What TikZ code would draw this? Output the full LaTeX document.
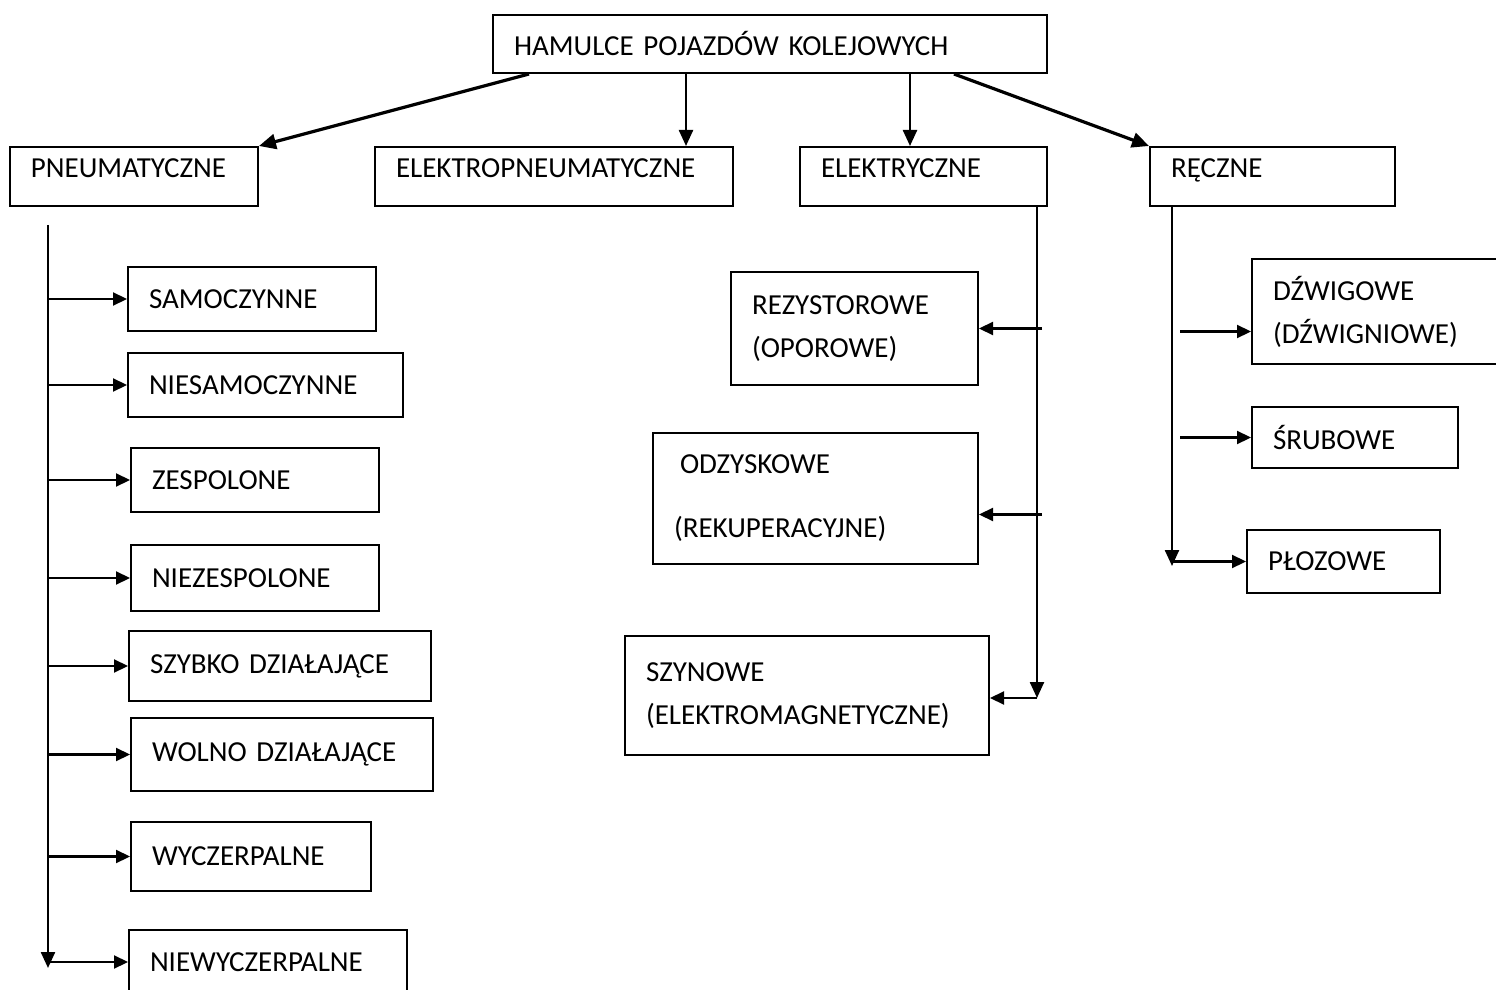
\documentclass[tikz,border=0pt]{standalone}
\usepackage{fontspec}
\setmainfont{Carlito}
\usetikzlibrary{arrows.meta,calc}
\tikzset{
  box/.style 2 args={draw,line width=1pt,minimum width=#1,minimum height=#2,
    text width=#1-21pt,inner xsep=10.5pt,inner ysep=0pt,align=left,
    font=\fontsize{14.5pt}{21.5pt}\selectfont},
  raised/.style={text height=9.3pt,text depth=8.5pt},
  edge/.style={-{Triangle[length=8pt,width=7pt]},line width=1.2pt},
  sedge/.style={-{Triangle[length=8.5pt,width=7.5pt]},line width=1.6pt},
  branch/.style={-{Triangle[length=7pt,width=6.5pt]},line width=1.1pt}
}
\begin{document}
\begin{tikzpicture}[x=0.5pt,y=-0.5pt]
\useasboundingbox (0,0) rectangle (1496,990);
% main classes
\node[box={277pt}{29pt}] (top) at (770,44) {HAMULCE POJAZDÓW KOLEJOWYCH};
\node[box={124pt}{29.5pt},raised] (pn) at (134,176.5) {PNEUMATYCZNE};
\node[box={179pt}{29.5pt},raised] (ep) at (554,176.5) {ELEKTROPNEUMATYCZNE};
\node[box={123.5pt}{29.5pt},raised] (el) at (923.5,176.5) {ELEKTRYCZNE};
\node[box={122.5pt}{29.5pt},raised] (rc) at (1272.5,176.5) {RĘCZNE};
% pneumatic
\node[box={124pt}{32pt}] (sam) at (252,299) {SAMOCZYNNE};
\node[box={137.5pt}{32pt}] (nsam) at (265.5,385) {NIESAMOCZYNNE};
\node[box={124pt}{32pt}] (zes) at (255,480) {ZESPOLONE};
\node[box={124pt}{33pt}] (nzes) at (255,578) {NIEZESPOLONE};
\node[box={151pt}{35pt}] (szyb) at (280,666) {SZYBKO DZIAŁAJĄCE};
\node[box={151pt}{36.5pt}] (woln) at (282,754.5) {WOLNO DZIAŁAJĄCE};
\node[box={120pt}{34.5pt}] (wycz) at (251,856.5) {WYCZERPALNE};
\node[box={139pt}{32pt}] (nwycz) at (268,962) {NIEWYCZERPALNE};
% electric
\node[box={123.5pt}{56.5pt}] (rez) at (854.5,328.5) {REZYSTOROWE\\(OPOROWE)};
\node[box={162.5pt}{65.5pt}] (odz) at (815.5,498.5) {\hspace*{3pt}ODZYSKOWE\\[10.5pt](REKUPERACYJNE)};
\node[box={182pt}{59.5pt}] (szyn) at (807,695.5) {SZYNOWE\\(ELEKTROMAGNETYCZNE)\\[-5pt]};
% manual
\node[box={124pt}{52.5pt}] (dzw) at (1376,311.5) {DŹWIGOWE\\(DŹWIGNIOWE)};
\node[box={103pt}{30.5pt}] (sru) at (1355,437.5) {ŚRUBOWE};
\node[box={96.5pt}{31.5pt}] (plo) at (1343.5,561.5) {PŁOZOWE};

% top level connectors
\coordinate (xep) at (686,0);
\coordinate (xel) at (910,0);
\draw[sedge] ($(top.south west)+(37,0)$) -- (pn.north east);
\draw[edge] (top.south -| xep) -- (ep.north -| xep);
\draw[edge] (top.south -| xel) -- (el.north -| xel);
\draw[sedge] ($(top.south west)+(462,0)$) -- (rc.north west);

% pneumatic trunk
\coordinate (pt) at (48,225);
\coordinate (pb) at (48,968);
\draw[edge] (pt) -- (pb);
\foreach \n in {sam,nsam,zes,nzes,szyb,woln,wycz,nwycz}
  \draw[branch] (pt |- \n.west) -- (\n.west);

% electric trunk
\coordinate (et) at (1037,206);
\coordinate (eb) at (1037,698);
\draw[edge] (et) -- (eb);
\draw[branch] ($(et |- rez.east)+(5,0)$) -- (rez.east);
\draw[branch] ($(et |- odz.east)+(5,16)$) -- ($(odz.east)+(0,16)$);
\draw[branch] (eb) -- (eb -| szyn.east);

% manual trunk
\coordinate (rt) at (1172,206);
\coordinate (rb) at (1172,566);
\draw[edge] (rt) -- (rb);
\draw[branch] ($(rt |- dzw.west)+(8,20)$) -- ($(dzw.west)+(0,20)$);
\draw[branch] ($(rt |- sru.west)+(8,0)$) -- (sru.west);
\draw[branch] (rb |- plo.west) -- (plo.west);
\end{tikzpicture}
\end{document}
